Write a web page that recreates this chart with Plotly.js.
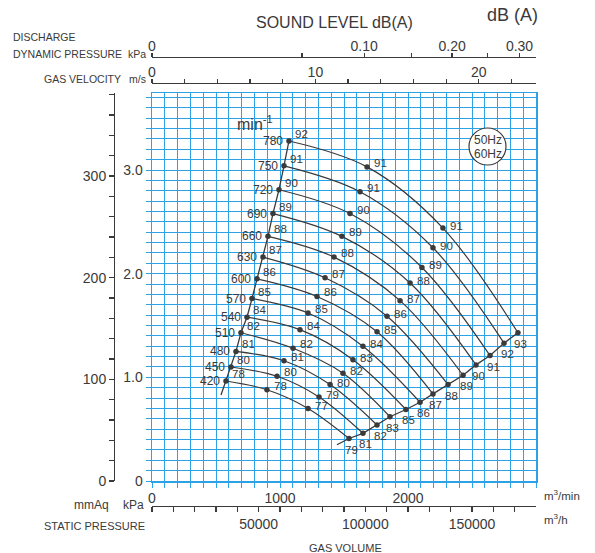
<!DOCTYPE html>
<html><head><meta charset="utf-8">
<script src="https://cdn.plot.ly/plotly-3.0.1.min.js"></script>
<style>html,body{margin:0;padding:0;background:#fff}</style>
</head><body><div id="chart" style="width:595px;height:553px"></div>
<script>
// ---- data ----
const rpm    = [420, 450, 480, 510, 540, 570, 600, 630, 660, 690, 720, 750, 780];
// start point of each fan curve (m3/min, kPa) and its sound level
const startQ  = [578, 617, 656, 695, 742, 781, 820, 867, 906, 945, 992, 1031, 1070];
const startP  = [0.965, 1.10, 1.25, 1.43, 1.58, 1.76, 1.95, 2.16, 2.36, 2.58, 2.81, 3.04, 3.28];
const startDB = [78, 80, 81, 82, 84, 85, 86, 87, 88, 89, 90, 91, 92];
// first intermediate point
const mid1Q  = [898, 977, 1031, 1102, 1156, 1219, 1289, 1352, 1422, 1484, 1547, 1625, 1680];
const mid1P  = [0.88, 1.01, 1.16, 1.28, 1.46, 1.62, 1.78, 1.96, 2.16, 2.36, 2.58, 2.79, 3.03];
const mid1DB = [78, 80, 81, 82, 84, 85, 86, 87, 88, 89, 90, 91, 91];
// second intermediate point
const mid2Q  = [1219, 1305, 1391, 1492, 1570, 1648, 1758, 1836, 1938, 2016, 2109, 2195, 2273];
const mid2P  = [0.70, 0.81, 0.93, 1.04, 1.17, 1.30, 1.44, 1.59, 1.74, 1.91, 2.06, 2.25, 2.44];
const mid2DB = [77, 79, 80, 82, 83, 84, 85, 86, 87, 88, 89, 90, 91];
// end point
const endQ  = [1539, 1648, 1758, 1859, 1984, 2094, 2195, 2313, 2430, 2531, 2641, 2750, 2859];
const endP  = [0.41, 0.46, 0.54, 0.62, 0.69, 0.76, 0.84, 0.93, 1.02, 1.12, 1.21, 1.33, 1.43];
const endDB = [79, 81, 82, 83, 85, 86, 87, 88, 89, 90, 91, 92, 93];
// lower extensions of the start / end boundary lines
const startLineExtQ = [539], startLineExtP = [0.83];
const endLineExtQ   = [1445], endLineExtP   = [0.35];

// axis ticks
const m3minTicks  = [0, 1000, 2000];
const m3hTicks    = [0,10000,20000,30000,40000,50000,60000,70000,80000,90000,100000,110000,120000,130000,140000,150000,160000,170000];
const m3hLabeled  = [50000, 100000, 150000];
const velTicks    = [0,2,4,6,8,10,12,14,16,18,20,22];
const velLabeled  = [0,10,20];
const dpTicks     = [0,0.05,0.10,0.15,0.20,0.25,0.30];
const dpLabels    = ['0','','0.10','','0.20','','0.30'];
const mmAqTicks   = [0,20,40,60,80,100,120,140,160,180,200,220,240,260,280,300,320,340,360,380];
const mmAqLabeled = [0,100,200,300];
const kPaLabels   = {0:'0',10:'1.0',20:'2.0',30:'3.0'};

// unit conversions
const KPA_PER_MMAQ = 0.00980665;
const M3H_PER_M3MIN = 60;
const DP_COEF = 0.000593;   // kPa per (m/s)^2
const Q_MAX = 3000, P_MAX = 3.74, VEL_MAX = 23.5;

// ---- styling ----
const W = 595, H = 553;
const blue = '#2ea2e6';
const ink = '#3a3a3a';
const narrow = '"Liberation Sans Narrow", "Liberation Sans", Arial, sans-serif';
const regular = '"Liberation Sans", Arial, sans-serif';
const numFont = {family: regular, size: 14, color: ink};
const px = v => v / W, py = v => 1 - v / H;

const gridY = [], gridYText = [];
for (let i = 0; i <= 37; i++) { gridY.push(i / 10); gridYText.push(kPaLabels[i] || ''); }

const traces = [];
// boundary lines
traces.push({x: startLineExtQ.concat(startQ), y: startLineExtP.concat(startP), mode: 'lines',
  line: {color: ink, width: 1.3}, hoverinfo: 'skip'});
traces.push({x: endLineExtQ.concat(endQ), y: endLineExtP.concat(endP), mode: 'lines',
  line: {color: ink, width: 1.3}, hoverinfo: 'skip'});
// fan curves
for (let i = 0; i < rpm.length; i++) {
  traces.push({
    x: [startQ[i], mid1Q[i], mid2Q[i], endQ[i]],
    y: [startP[i], mid1P[i], mid2P[i], endP[i]],
    mode: 'lines+markers', line: {color: ink, width: 1.2, shape: 'spline', smoothing: 1},
    marker: {color: ink, size: 5.5}, hoverinfo: 'skip'
  });
}
// helper traces so that every auxiliary axis is drawn
[['x2','y'],['x3','y'],['x4','y'],['x5','y'],['x','y2']].forEach(a => traces.push({
  x: [0], y: [0], xaxis: a[0], yaxis: a[1], mode: 'markers', marker: {opacity: 0}, hoverinfo: 'skip'}));

const ann = [];
const lbl = {family: narrow, size: 11.5, color: ink};
const rpmFont = {family: narrow, size: 12, color: ink};
for (let i = 0; i < rpm.length; i++) {
  ann.push({x: startQ[i], y: startP[i], text: String(rpm[i]), showarrow: false, xanchor: 'right', yanchor: 'middle', xshift: -4, font: rpmFont});
  ann.push({x: startQ[i], y: startP[i], text: String(startDB[i]), showarrow: false, xanchor: 'left', yanchor: 'middle', xshift: 4, yshift: 7, font: lbl});
  ann.push({x: mid1Q[i], y: mid1P[i], text: String(mid1DB[i]), showarrow: false, xanchor: 'left', yanchor: 'middle', xshift: 5, yshift: 4, font: lbl});
  ann.push({x: mid2Q[i], y: mid2P[i], text: String(mid2DB[i]), showarrow: false, xanchor: 'left', yanchor: 'middle', xshift: 5, yshift: 2, font: lbl});
  ann.push({x: endQ[i], y: endP[i], text: String(endDB[i]), showarrow: false, xanchor: 'center', yanchor: 'middle', xshift: 3, yshift: -11, font: lbl});
}
const txt = (t, x, y, xa, size, fam) => ann.push({xref: 'paper', yref: 'paper', x: px(x), y: py(y), text: t,
  showarrow: false, xanchor: xa, yanchor: 'middle', font: {family: fam || regular, size: size, color: ink}});
txt('SOUND LEVEL dB(A)', 334, 23, 'center', 16);
txt('dB (A)', 512, 15, 'center', 18);
txt('DISCHARGE', 11, 37, 'left', 10.5);
txt('DYNAMIC PRESSURE', 11, 54, 'left', 10.5);
txt('kPa', 148, 54, 'right', 10.5);
txt('GAS VELOCITY', 42, 79, 'left', 10.5);
txt('m/s', 148, 79, 'right', 10.5);
txt('mmAq', 111, 505, 'right', 12);
txt('kPa', 146, 505, 'right', 12);
txt('STATIC PRESSURE', 42, 526, 'left', 11);
txt('GAS VOLUME', 345, 548, 'center', 11);
txt('m<sup>3</sup>/min', 542, 495, 'left', 11.5);
txt('m<sup>3</sup>/h', 542, 519, 'left', 11.5);
txt('min<sup>-1</sup>', 235, 123, 'left', 16);
txt('50Hz', 487.5, 140, 'center', 12, narrow);
txt('60Hz', 487.5, 153.5, 'center', 12, narrow);

const auxTop = {ticks: 'outside', ticklen: 4, tickwidth: 1.2, tickcolor: ink, showline: true, linecolor: ink, linewidth: 1.2,
  showgrid: false, gridcolor: 'rgba(0,0,0,0)', zeroline: false, tickfont: numFont, ticklabelstandoff: -4};

const layout = {
  width: W, height: H, margin: {l: 0, r: 0, t: 0, b: 0},
  paper_bgcolor: '#fff', plot_bgcolor: '#fff', showlegend: false,
  xaxis: {domain: [px(152), px(536)], range: [0, Q_MAX], tickmode: 'linear', tick0: 0, dtick: 100,
    showgrid: true, gridcolor: blue, gridwidth: 1, ticks: 'outside', ticklen: 5, tickwidth: 1, tickcolor: blue,
    showticklabels: false, showline: true, mirror: true, linecolor: blue, linewidth: 1.5, zeroline: false},
  yaxis: {domain: [py(481), py(93.3)], range: [0, P_MAX], tickmode: 'array', tickvals: gridY, ticktext: gridYText,
    showgrid: true, gridcolor: blue, gridwidth: 1, ticks: 'outside', ticklen: 5, tickwidth: 1, tickcolor: blue,
    tickfont: numFont, showline: true, mirror: true, linecolor: blue, linewidth: 1.5, zeroline: false},
  xaxis2: {overlaying: 'x', anchor: 'free', position: py(506), side: 'top', range: [0, Q_MAX],
    tickmode: 'array', tickvals: m3minTicks, ticktext: m3minTicks.map(String), ticks: '', ticklabelstandoff: -3,
    showline: true, linecolor: ink, linewidth: 1.2, showgrid: false, gridcolor: 'rgba(0,0,0,0)', zeroline: false, tickfont: numFont},
  xaxis3: {overlaying: 'x', anchor: 'free', position: py(506), side: 'bottom', range: [0, Q_MAX * M3H_PER_M3MIN],
    tickmode: 'array', tickvals: m3hTicks, ticktext: m3hTicks.map(v => m3hLabeled.includes(v) ? String(v) : ''),
    ticks: 'outside', ticklen: 5, tickwidth: 1.2, tickcolor: ink, showline: false, showgrid: false, gridcolor: 'rgba(0,0,0,0)', zeroline: false, tickfont: numFont},
  xaxis4: Object.assign({overlaying: 'x', anchor: 'free', position: py(83), side: 'top', range: [0, VEL_MAX],
    tickmode: 'array', tickvals: velTicks, ticktext: velTicks.map(v => velLabeled.includes(v) ? String(v) : '')}, auxTop),
  xaxis5: Object.assign({overlaying: 'x', anchor: 'free', position: py(57), side: 'top', range: [0, VEL_MAX],
    tickmode: 'array', tickvals: dpTicks.map(p => Math.sqrt(p / DP_COEF)), ticktext: dpLabels}, auxTop),
  yaxis2: {overlaying: 'y', anchor: 'free', position: px(114), side: 'left', range: [0, P_MAX / KPA_PER_MMAQ],
    tickmode: 'array', tickvals: mmAqTicks, ticktext: mmAqTicks.map(v => mmAqLabeled.includes(v) ? String(v) : ''),
    ticks: 'outside', ticklen: 5, tickwidth: 1.2, tickcolor: ink, showline: true, linecolor: ink, linewidth: 1.2,
    showgrid: false, gridcolor: 'rgba(0,0,0,0)', zeroline: false, tickfont: numFont},
  shapes: [{type: 'circle', xref: 'paper', yref: 'paper', x0: px(469), x1: px(506), y0: py(165), y1: py(128),
    line: {color: ink, width: 1.2}, fillcolor: '#fff'}],
  annotations: ann
};
Plotly.newPlot('chart', traces, layout, {staticPlot: true, displayModeBar: false});
</script></body></html>
